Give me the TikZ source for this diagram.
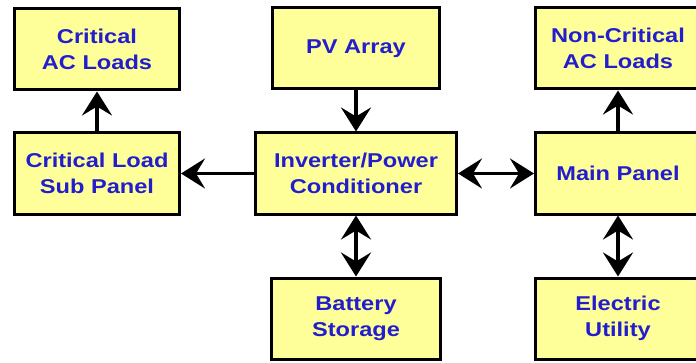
\documentclass[tikz,border=0pt]{standalone}
\usepackage{fontspec}
\setmainfont[FakeStretch=1.18]{Liberation Sans}
\usetikzlibrary{arrows.meta,positioning}
\definecolor{boxfill}{RGB}{255,255,153}
\definecolor{labelblue}{RGB}{35,30,205}
\tikzset{
  block/.style={draw, line width=3pt, fill=boxfill, align=center, text=labelblue,
    font=\fontsize{20}{26}\selectfont\bfseries,
    minimum width=165pt, minimum height=81pt, inner sep=0pt},
  arrow/.style={-{Stealth[length=24pt, width=30pt, inset=9pt]}, line width=3.5pt},
  dblarrow/.style={{Stealth[length=24pt, width=30pt, inset=9pt]}-{Stealth[length=24pt, width=30pt, inset=9pt]}, line width=3.5pt}
}

\begin{document}
\begin{tikzpicture}
  \useasboundingbox (0,0) rectangle (696pt,362pt);
  \node[block, minimum width=201pt] (inverter) at (356pt,188.5pt) {Inverter/Power\\Conditioner};
  \node[block, minimum width=167pt, above=41pt of inverter] (pv) {PV Array};
  \node[block, minimum width=169pt, below=61pt of inverter] (battery) {Battery\\Storage};
  \node[block, left=73pt of inverter] (subpanel) {Critical Load\\Sub Panel};
  \node[block, above=40pt of subpanel] (critloads) {Critical\\AC Loads};
  \node[block, right=76pt of inverter] (mainpanel) {Main Panel};
  \node[block, above=41pt of mainpanel] (noncritloads) {Non-Critical\\AC Loads};
  \node[block, below=61pt of mainpanel] (utility) {Electric\\Utility};

  \draw[arrow] (subpanel) -- (critloads);
  \draw[arrow] (inverter) -- (subpanel);
  \draw[arrow] (pv) -- (inverter);
  \draw[dblarrow] (inverter) -- (battery);
  \draw[dblarrow] (inverter) -- (mainpanel);
  \draw[arrow] (mainpanel) -- (noncritloads);
  \draw[dblarrow] (mainpanel) -- (utility);
\end{tikzpicture}
\end{document}
